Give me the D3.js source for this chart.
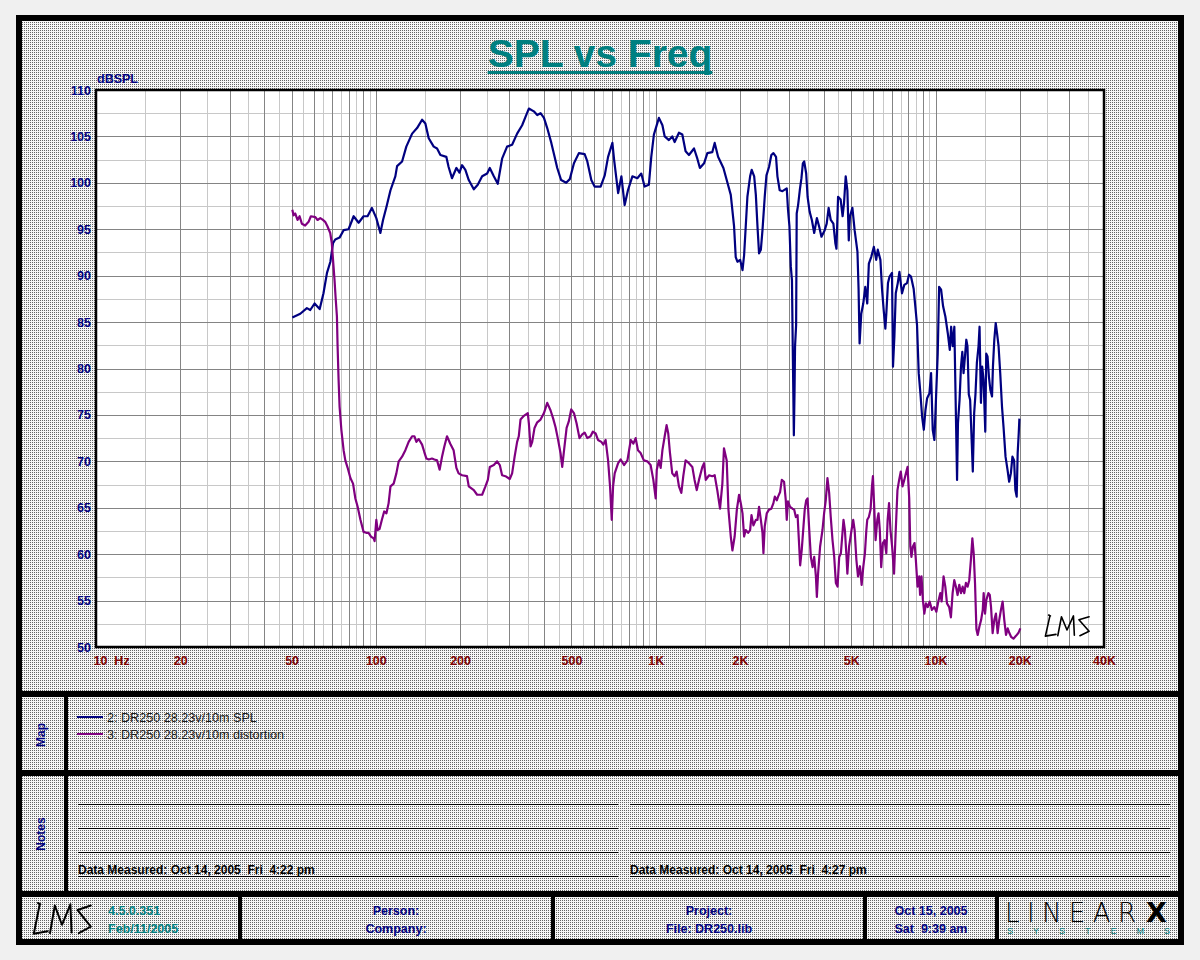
<!DOCTYPE html>
<html><head><meta charset="utf-8">
<script src="https://cdn.jsdelivr.net/npm/d3@7"></script>
<style>body{margin:0;background:#f0f0f0;} svg{display:block;}</style>
</head><body><svg id="c" width="1200" height="960"></svg>
<script>
// ---------------- data ----------------
const chartTitle = "SPL vs Freq";
const yAxisTitle = "dBSPL";
const yTicks = [50,55,60,65,70,75,80,85,90,95,100,105,110];
const xTickValues = [10,20,50,100,200,500,1000,2000,5000,10000,20000,40000];
const xTickLabels = ["10  Hz","20","50","100","200","500","1K","2K","5K","10K","20K","40K"];
const seriesNames = ["2: DR250 28.23v/10m SPL","3: DR250 28.23v/10m distortion"];
const seriesColors = ["#000080","#800080"];
const notesText = ["Data Measured: Oct 14, 2005  Fri  4:22 pm","Data Measured: Oct 14, 2005  Fri  4:27 pm"];
const footerVersion = ["4.5.0.351","Feb/11/2005"];
const footerPerson = ["Person:","Company:"];
const footerProject = ["Project:","File: DR250.lib"];
const footerDate = ["Oct 15, 2005","Sat  9:39 am"];

// [frequency Hz, dB SPL]
const splData = [[50.3,85.5],[53.7,85.9],[56.7,86.5],[58.3,86.3],[60.4,87.0],[63.0,86.4],[65.0,88.1],[66.9,90.3],[68.8,91.5],[70.3,93.5],[71.6,93.9],[74.2,94.1],[76.7,94.9],[79.9,95.0],[83.3,96.4],[86.8,95.7],[90.4,96.4],[93.4,96.4],[96.8,97.3],[100.4,96.2],[103.8,94.6],[106.1,96.0],[109.1,97.4],[112.8,99.2],[117.4,100.7],[119.1,101.8],[124.1,102.3],[128.5,103.9],[134.8,105.3],[140.4,105.9],[146.3,106.8],[150.3,106.4],[154.5,104.8],[161,103.9],[165.5,103.7],[170.1,103.0],[178.6,102.8],[182,101.7],[187.1,100.5],[194,101.6],[199,101.1],[203.3,101.9],[208.9,101.4],[214.8,100.3],[223.9,99.3],[231.3,99.8],[239.8,100.7],[249.9,101.0],[255.4,101.6],[264,100.7],[272.7,99.9],[282.6,102.6],[294.4,103.9],[306.9,104.1],[319.8,105.3],[333.3,106.2],[342.6,107.1],[352.2,108.0],[366.9,107.7],[377.3,107.3],[387.8,107.5],[398.8,107.0],[409.7,105.9],[423.7,104.3],[435.3,102.8],[444.9,101.6],[459.4,100.3],[478.8,100.0],[493.3,100.4],[510.4,102.1],[531.6,103.2],[557.4,103.1],[569.8,102.3],[588.8,100.3],[605,99.6],[635.8,99.6],[657.6,100.8],[675.9,102.8],[700.4,104.3],[710.2,102.5],[734.3,98.9],[754.3,100.7],[774.7,97.6],[796,99.2],[825.5,100.7],[859.9,100.5],[888.2,101.0],[912.8,99.6],[945.6,99.8],[964.4,102.8],[985.4,105.2],[1027,107.0],[1057,106.2],[1077,105.0],[1115,104.6],[1146,105.0],[1169,104.4],[1211,105.4],[1245,105.2],[1279,103.4],[1315,103.0],[1371,103.7],[1409,102.6],[1439,101.6],[1489,102.1],[1530,103.2],[1593,103.3],[1625,104.3],[1671,102.8],[1746,101.6],[1794,100.3],[1855,98.7],[1906,95.3],[1932,92.0],[1959,91.5],[2004,91.7],[2043,90.6],[2070,92.2],[2098,95.3],[2127,98.5],[2175,100.7],[2204,101.4],[2249,100.7],[2280,98.7],[2311,95.3],[2341,92.4],[2376,92.8],[2408,94.9],[2453,98.5],[2488,100.8],[2541,101.7],[2590,103.0],[2635,103.2],[2692,102.8],[2723,100.7],[2774,99.2],[2838,99.1],[2940,99.4],[2971,97.1],[3006,95.3],[3040,91.0],[3069,89.5],[3093,80.9],[3117,72.8],[3134,77.3],[3148,82.4],[3176,84.7],[3191,96.7],[3228,97.6],[3273,99.2],[3318,100.5],[3357,102.1],[3394,102.3],[3450,101.0],[3490,98.5],[3549,96.9],[3615,96.0],[3685,94.6],[3767,96.2],[3838,95.3],[3912,94.2],[4018,94.9],[4084,95.6],[4150,97.3],[4223,96.0],[4315,95.6],[4386,93.5],[4426,92.9],[4485,98.5],[4581,98.2],[4656,96.4],[4710,97.8],[4776,100.7],[4842,99.2],[4898,93.8],[4946,96.4],[5046,97.3],[5140,94.9],[5260,92.6],[5309,88.6],[5354,82.7],[5428,85.9],[5518,87.0],[5610,88.8],[5702,87.0],[5778,91.3],[5889,92.0],[6021,93.1],[6138,91.7],[6219,92.8],[6354,91.7],[6442,88.5],[6527,86.3],[6618,84.3],[6671,85.9],[6762,89.2],[6852,89.9],[6991,90.3],[7047,80.2],[7128,83.4],[7210,88.1],[7330,89.2],[7430,90.4],[7590,88.1],[7734,89.0],[7911,89.2],[8040,90.1],[8172,89.9],[8352,88.6],[8469,86.7],[8588,84.7],[8709,79.5],[8832,77.3],[8956,74.8],[9082,73.4],[9204,75.5],[9333,76.8],[9509,77.3],[9641,79.5],[9772,73.4],[9908,72.3],[10046,77.0],[10183,81.6],[10301,88.8],[10470,88.5],[10643,86.7],[10844,85.6],[11062,83.8],[11245,82.0],[11374,84.5],[11518,82.4],[11675,84.5],[11800,76.6],[11940,68.0],[12028,74.1],[12186,76.6],[12331,80.2],[12467,81.8],[12595,79.5],[12768,81.6],[12882,83.1],[13008,82.4],[13150,77.2],[13296,76.6],[13478,71.9],[13590,68.9],[13744,75.2],[13896,77.3],[14053,80.6],[14246,82.4],[14366,84.5],[14531,76.3],[14680,80.2],[14850,78.8],[15060,73.2],[15180,81.6],[15340,81.3],[15520,79.1],[15700,77.7],[15920,77.0],[16040,80.2],[16220,83.1],[16410,84.9],[16590,83.8],[16800,82.4],[17030,79.5],[17280,75.9],[17500,73.7],[17790,70.5],[18080,69.1],[18330,67.8],[18590,68.7],[18830,70.5],[19090,70.1],[19290,66.9],[19500,66.2],[19660,70.9],[19830,73.0],[19940,74.6]];

const distData = [[50.3,97.1],[50.8,96.5],[51.5,96.7],[52.5,96.0],[53.4,96.4],[54.4,95.6],[55.9,95.4],[57.5,95.8],[58.6,96.4],[60.8,96.3],[61.9,96.0],[63.3,96.2],[64.7,96.0],[65.9,95.8],[67.2,95.3],[68.7,94.6],[69.6,93.5],[70.6,91.0],[71.2,89.5],[71.8,87.7],[72.6,85.6],[73.0,82.4],[73.6,78.8],[74.2,75.9],[75.3,73.4],[76.7,71.2],[77.8,70.1],[79.3,69.3],[81.1,68.2],[82.9,67.6],[84.5,66.0],[86.1,65.1],[88.1,63.7],[90.4,62.4],[92.4,62.3],[94.2,62.3],[96.1,61.9],[98.2,61.7],[99.0,61.4],[100.4,63.7],[101.5,62.6],[103.1,62.7],[105.1,63.7],[107.1,64.6],[109.1,64.4],[111.1,65.5],[112.8,67.3],[115.8,67.6],[118.4,68.7],[120.7,70.0],[124.1,70.5],[127.5,71.2],[131,72.1],[134.8,72.7],[137.4,72.7],[139.6,72.1],[142.3,72.4],[146.3,71.8],[149,71.0],[151.6,70.3],[154.5,70.2],[158.7,70.3],[161.9,70.2],[165.5,70.1],[169,69.1],[172.4,70.5],[175.7,71.6],[179.6,72.7],[184.5,71.9],[189.6,71.2],[194,69.3],[197.6,68.7],[203.3,68.5],[211.7,68.4],[214.8,67.3],[223.9,66.9],[230.1,66.4],[239.8,66.4],[246.4,67.3],[251.3,68.0],[255.4,69.4],[264,69.6],[271.3,70.0],[277.3,69.6],[282.6,68.5],[290.5,68.4],[301,68.1],[306.9,68.7],[313.3,70.5],[319.8,72.1],[324.2,72.7],[328.8,74.5],[338.1,74.9],[349.2,75.2],[352.2,74.1],[357.2,71.6],[362.1,72.1],[369,73.6],[377.3,74.2],[387.8,74.5],[398.8,75.2],[409.7,76.3],[420.9,75.5],[430.3,74.6],[438.5,73.7],[446.8,72.5],[457,70.9],[463.5,69.4],[469.4,70.9],[480.5,73.6],[489.3,74.3],[499,75.6],[510.4,75.2],[521.5,74.1],[534.2,72.5],[546.5,72.9],[557.4,73.1],[569.8,72.5],[585,72.7],[596.6,73.2],[610.1,73.0],[622.1,72.3],[639.3,72.1],[650.2,71.8],[662.3,72.3],[675.9,70.1],[687,67.3],[696.6,63.7],[704.3,67.3],[713.7,68.7],[734.3,69.8],[750,70.2],[770.8,69.6],[792.6,70.1],[814.6,72.3],[832.3,71.9],[848.1,72.5],[864.3,71.2],[883.3,70.9],[907.2,70.1],[933.2,70.0],[959.2,69.6],[980.9,68.0],[1000,66.0],[1009,69.1],[1027,70.1],[1042,69.3],[1057,71.2],[1077,72.7],[1094,73.9],[1109,73.0],[1124,71.0],[1146,68.7],[1169,68.4],[1188,68.9],[1211,67.3],[1235,66.6],[1255,68.4],[1279,70.1],[1315,69.8],[1352,69.4],[1377,68.0],[1402,66.9],[1428,68.0],[1468,69.4],[1489,69.8],[1510,68.0],[1552,68.5],[1593,68.4],[1625,68.5],[1660,66.9],[1698,64.9],[1731,67.6],[1754,71.4],[1794,70.1],[1820,64.8],[1855,61.9],[1880,60.4],[1915,61.9],[1950,64.8],[1986,66.4],[2014,65.5],[2043,64.4],[2070,61.9],[2098,62.6],[2139,62.3],[2175,62.6],[2200,64.2],[2235,63.1],[2280,63.7],[2311,63.7],[2341,65.1],[2376,63.7],[2408,62.3],[2427,60.1],[2453,63.0],[2494,64.4],[2541,64.8],[2590,64.9],[2635,65.5],[2665,66.2],[2709,65.8],[2738,66.2],[2784,66.7],[2823,68.0],[2876,67.8],[2917,65.8],[2940,63.7],[2971,65.7],[3021,65.1],[3083,64.9],[3125,64.8],[3169,64.0],[3214,64.2],[3258,60.8],[3283,58.8],[3327,60.5],[3374,63.0],[3409,64.8],[3450,65.8],[3490,66.0],[3532,63.0],[3585,59.7],[3637,58.6],[3685,59.7],[3737,57.6],[3767,55.4],[3805,57.9],[3868,60.8],[3945,62.6],[3998,64.4],[4053,65.8],[4110,68.2],[4168,66.6],[4223,64.0],[4285,61.5],[4345,59.7],[4405,56.9],[4466,56.5],[4527,59.7],[4590,60.1],[4690,63.7],[4744,62.6],[4808,59.7],[4842,57.9],[4910,60.8],[5011,62.6],[5080,63.7],[5140,62.6],[5214,59.4],[5284,57.6],[5370,58.7],[5445,56.7],[5518,58.6],[5594,60.1],[5660,62.6],[5702,63.7],[5778,64.0],[5860,64.8],[5928,67.3],[5975,68.4],[6043,64.8],[6107,61.5],[6194,63.7],[6257,64.4],[6323,62.6],[6396,58.6],[6484,61.2],[6577,61.5],[6670,60.1],[6744,63.7],[6823,65.5],[6902,62.6],[6998,60.8],[7109,57.9],[7210,62.6],[7311,66.9],[7413,68.0],[7516,68.9],[7621,67.3],[7734,68.0],[7834,68.7],[7943,69.4],[8054,66.0],[8127,60.8],[8203,59.7],[8297,60.8],[8414,61.2],[8505,59.4],[8625,56.5],[8745,57.6],[8808,55.6],[8912,57.6],[9012,55.1],[9120,53.6],[9245,54.7],[9376,54.3],[9528,54.9],[9708,54.0],[9908,54.3],[10070,53.8],[10233,54.9],[10400,55.8],[10516,54.9],[10685,57.6],[10840,56.5],[10990,54.7],[11190,54.3],[11350,53.2],[11510,55.8],[11670,57.2],[11830,56.5],[11990,55.6],[12160,56.7],[12330,55.8],[12500,56.5],[12670,55.8],[12840,56.9],[13020,56.5],[13200,57.2],[13380,59.4],[13540,61.7],[13690,60.1],[13840,56.9],[14000,51.9],[14150,51.3],[14350,52.2],[14550,52.9],[14750,54.0],[14860,55.8],[15030,53.6],[15200,55.1],[15450,55.8],[15630,55.6],[15790,54.3],[16000,51.5],[16220,52.9],[16440,53.6],[16670,51.5],[16890,52.9],[17130,54.0],[17370,54.9],[17610,52.9],[17860,51.3],[18110,52.0],[18360,51.5],[18620,51.1],[18990,50.9],[19390,51.2],[19770,51.5],[20100,52.0]];

// ---------------- drawing ----------------
const svg = d3.select("#c");
const FONT = "'Liberation Sans', Arial, Helvetica, sans-serif";
const defs = svg.append("defs");
const pat = defs.append("pattern").attr("id","stip").attr("width",2).attr("height",2).attr("patternUnits","userSpaceOnUse");
pat.append("rect").attr("width",2).attr("height",2).attr("fill","#f6f6f6");
pat.append("rect").attr("width",1).attr("height",1).attr("fill","#646464");

// page background and frame
svg.append("rect").attr("width",1200).attr("height",960).attr("fill","#f0f0f0");
svg.append("rect").attr("x",16).attr("y",15).attr("width",1168).attr("height",930).attr("fill","#000");
svg.append("rect").attr("x",22).attr("y",21).attr("width",1156).attr("height",918).attr("fill","url(#stip)");
const blk = (x,y,w,h)=>svg.append("rect").attr("x",x).attr("y",y).attr("width",w).attr("height",h).attr("fill","#000");
blk(22,691,1156,6);
blk(22,770,1156,6);
blk(22,891,1156,6);
blk(64,697,4,194);
[238,551,863,995].forEach(x=>blk(x,897,4,42));

// title
const tt = svg.append("text").attr("x",600).attr("y",67).attr("text-anchor","middle")
  .attr("font-family",FONT).attr("font-weight","bold").attr("font-size",39).attr("fill","#008080").text(chartTitle);
const tb = tt.node().getBBox();
svg.append("rect").attr("x",tb.x).attr("y",71).attr("width",tb.width).attr("height",3).attr("fill","#008080");

// scales
const plot = {l:96, r:1104, t:90, b:647};
const x = d3.scaleLog().domain([10,40000]).range([plot.l, plot.r]);
const y = d3.scaleLinear().domain([50,110]).range([plot.b, plot.t]);

svg.append("rect").attr("x",plot.l).attr("y",plot.t).attr("width",plot.r-plot.l).attr("height",plot.b-plot.t).attr("fill","#fff");

// grid
const decades = [10,100,1000,10000];
const majorX = [], minorX = [];
decades.forEach(d=>{ for(let m=1;m<=9;m++){ if(m*d<=40000) majorX.push(m*d); if((m+0.5)*d<40000) minorX.push((m+0.5)*d);} });
const majorY = yTicks, minorY = yTicks.slice(0,-1).map(v=>v+2.5);
const grid = svg.append("g").attr("shape-rendering","crispEdges");
grid.selectAll(".mnx").data(minorX).join("line").attr("x1",d=>Math.round(x(d))+0.5).attr("x2",d=>Math.round(x(d))+0.5)
  .attr("y1",plot.t).attr("y2",plot.b).attr("stroke","#c8c8c8");
grid.selectAll(".mny").data(minorY).join("line").attr("y1",d=>Math.round(y(d))+0.5).attr("y2",d=>Math.round(y(d))+0.5)
  .attr("x1",plot.l).attr("x2",plot.r).attr("stroke","#c8c8c8");
grid.selectAll(".mjx").data(majorX).join("line").attr("x1",d=>Math.round(x(d))+0.5).attr("x2",d=>Math.round(x(d))+0.5)
  .attr("y1",plot.t).attr("y2",plot.b).attr("stroke","#848484");
grid.selectAll(".mjy").data(majorY).join("line").attr("y1",d=>Math.round(y(d))+0.5).attr("y2",d=>Math.round(y(d))+0.5)
  .attr("x1",plot.l).attr("x2",plot.r).attr("stroke","#848484");

// curves
defs.append("clipPath").attr("id","pc").append("rect").attr("x",plot.l).attr("y",plot.t).attr("width",plot.r-plot.l).attr("height",plot.b-plot.t);
const line = d3.line().x(d=>x(d[0])).y(d=>y(d[1]));
const curves = svg.append("g").attr("clip-path","url(#pc)");
[splData, distData].forEach((s,i)=>{
  curves.append("path").datum(s).attr("d",line).attr("fill","none").attr("stroke",seriesColors[i])
    .attr("stroke-width",2.2).attr("stroke-linejoin","round");
});

// plot border
svg.append("rect").attr("x",plot.l).attr("y",plot.t).attr("width",plot.r-plot.l).attr("height",plot.b-plot.t)
  .attr("fill","none").attr("stroke","#000").attr("stroke-width",2.5);

// axes
const yAx = svg.append("g").attr("transform",`translate(${plot.l},0)`)
  .call(d3.axisLeft(y).tickValues(yTicks).tickSize(0).tickPadding(5));
yAx.select(".domain").remove();
yAx.selectAll("text").attr("font-family",FONT).attr("font-weight","bold").attr("font-size",12.5).attr("fill","#000080");

const xAx = svg.append("g").attr("transform",`translate(0,${plot.b})`)
  .call(d3.axisBottom(x).tickValues(xTickValues).tickFormat((d,i)=>xTickLabels[i]).tickSize(0).tickPadding(9));
xAx.select(".domain").remove();
xAx.selectAll("text").attr("font-family",FONT).attr("font-weight","bold").attr("font-size",12.5).attr("fill","#800000")
  .style("white-space","pre");
xAx.selectAll("text").filter((d,i)=>i===0).attr("text-anchor","start").attr("dx",-3);

svg.append("text").attr("x",97).attr("y",83).attr("font-family",FONT).attr("font-weight","bold").attr("font-size",12.5)
  .attr("fill","#000080").text(yAxisTitle);

// LMS handwritten logo
function lms(gx,gy,w,h,sw){
  const g = svg.append("g").attr("transform",`translate(${gx},${gy}) scale(${w/100},${h/100})`);
  const p = "M14,4 L10,0 M13,3 L3,96 L26,88 M30,94 L38,8 L50,68 L64,4 L66,92 M98,8 L76,22 L98,74 L78,94";
  g.append("path").attr("d",p).attr("fill","none").attr("stroke","#000")
   .attr("stroke-linejoin","round").attr("stroke-linecap","round").attr("vector-effect","non-scaling-stroke")
   .attr("stroke-width",sw);
}
lms(1044,615,46,22,1.6);

// map / legend
const rot = (cx,cy,t)=>svg.append("text").attr("transform",`translate(${cx},${cy}) rotate(-90)`).attr("text-anchor","middle")
  .attr("font-family",FONT).attr("font-weight","bold").attr("font-size",12).attr("fill","#000080").text(t);
rot(45,735,"Map");
rot(45,834,"Notes");
seriesNames.forEach((n,i)=>{
  const yy = 717 + i*17;
  svg.append("line").attr("x1",77).attr("x2",103).attr("y1",yy).attr("y2",yy).attr("stroke",seriesColors[i]).attr("stroke-width",2);
  svg.append("text").attr("x",107).attr("y",yy+4.5).attr("font-family",FONT).attr("font-size",12.6).attr("fill","#1a1a1a").text(n);
});

// notes
const notesCols = [[78,618],[630,1170]];
notesCols.forEach((c,i)=>{
  [804,828,852,876].forEach(yy=>svg.append("rect").attr("x",c[0]).attr("width",c[1]-c[0]).attr("y",yy).attr("height",1)
     .attr("fill","#000"));
  svg.append("text").attr("x",c[0]).attr("y",874).attr("font-family",FONT).attr("font-weight","bold").attr("font-size",12)
    .attr("fill","#000").style("white-space","pre").text(notesText[i]);
});

// footer
lms(32,903,60,32,2);
const ft = (x0,yy,t,col,anchor)=>svg.append("text").attr("x",x0).attr("y",yy).attr("text-anchor",anchor||"middle")
  .attr("font-family",FONT).attr("font-weight","bold").attr("font-size",12.5).attr("fill",col).style("white-space","pre").text(t);
ft(108,915,footerVersion[0],"#008080","start");
ft(108,933,footerVersion[1],"#008080","start");
ft(396,915,footerPerson[0],"#000080");
ft(396,933,footerPerson[1],"#000080");
ft(709,915,footerProject[0],"#000080");
ft(709,933,footerProject[1],"#000080");
ft(931,915,footerDate[0],"#000080");
ft(931,933,footerDate[1],"#000080");
// LinearX logo
svg.append("text").attr("x",1005).attr("y",922).attr("font-family","'DejaVu Sans',sans-serif").attr("font-weight",200)
  .attr("font-size",26).attr("fill","#000").attr("textLength",131).attr("lengthAdjust","spacing").text("LINEAR");
svg.append("text").attr("x",1146).attr("y",922).attr("font-family","'DejaVu Sans',sans-serif").attr("font-weight","bold")
  .attr("font-size",27).attr("fill","#000").text("X");
svg.append("text").attr("x",1007).attr("y",934).attr("font-family",FONT).attr("font-size",9).attr("fill","#008080")
  .attr("textLength",163).attr("lengthAdjust","spacing").text("SYSTEMS");
</script></body></html>
